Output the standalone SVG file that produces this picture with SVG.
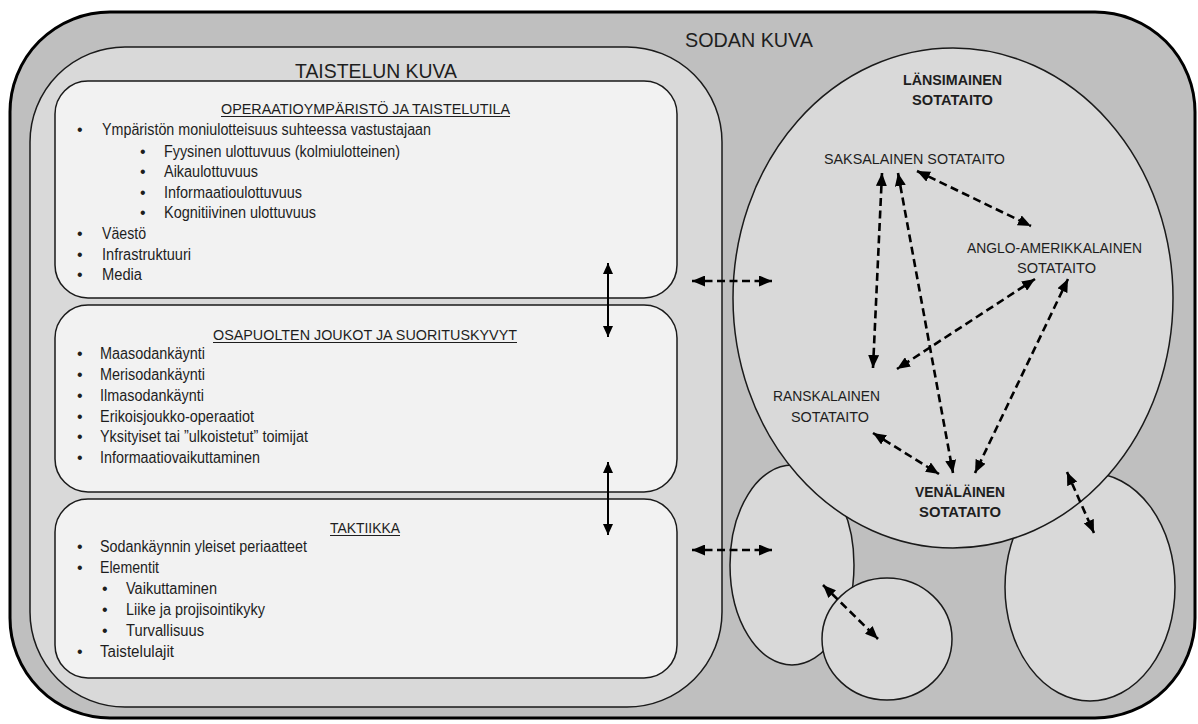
<svg xmlns="http://www.w3.org/2000/svg" width="1198" height="724" viewBox="0 0 1198 724">
<defs>
<style>
.t{font-family:"Liberation Sans Narrow","Liberation Sans",Arial,sans-serif;fill:#1e1e1e;}
.li{font-size:16px;}
.hd{font-size:15.5px;}
.ti{font-size:21px;}
.ci{font-size:15.5px;}
.b{font-weight:bold;}
.box{fill:#f2f2f2;stroke:#1a1a1a;stroke-width:1.5;}
.ell{fill:#d9d9d9;stroke:#1a1a1a;stroke-width:1.5;}
.ul{stroke:#1e1e1e;stroke-width:1.1;}
.da{fill:none;stroke:#000;stroke-width:2.6;stroke-dasharray:8 4.5;marker-start:url(#dh);marker-end:url(#dh);}
.sa{fill:none;stroke:#000;stroke-width:2;marker-start:url(#sh);marker-end:url(#sh);}
</style>
<marker id="dh" markerUnits="userSpaceOnUse" markerWidth="13" markerHeight="11" refX="13" refY="5.5" orient="auto-start-reverse" viewBox="0 0 13 11"><path d="M0,0 L13,5.5 L0,11 z" fill="#000"/></marker>
<marker id="sh" markerUnits="userSpaceOnUse" markerWidth="11" markerHeight="10" refX="11" refY="5" orient="auto-start-reverse" viewBox="0 0 11 10"><path d="M0,0 L11,5 L0,10 z" fill="#000"/></marker>
</defs>

<g id="sodan-kuva">
<rect x="10" y="12" width="1185" height="706" rx="100" ry="100" fill="#bfbfbf" stroke="#000" stroke-width="3"/>
<text class="t ti" x="685" y="47" textLength="128" lengthAdjust="spacingAndGlyphs">SODAN KUVA</text>
</g>

<g id="taistelun-kuva">
<rect x="30" y="47" width="692" height="660" rx="95" ry="95" fill="#d9d9d9" stroke="#1a1a1a" stroke-width="1.5"/>
<text class="t ti" x="295" y="78" textLength="162" lengthAdjust="spacingAndGlyphs">TAISTELUN KUVA</text>
</g>

<g id="operaatioymparisto">
<rect class="box" x="55" y="81" width="622" height="217" rx="33" ry="33"/>
<text class="t hd" x="221" y="114" textLength="289" lengthAdjust="spacingAndGlyphs">OPERAATIOYMPÄRISTÖ JA TAISTELUTILA</text>
<line class="ul" x1="221" y1="116.5" x2="510" y2="116.5"/>
<g class="t li">
<text x="77" y="135">•</text><text x="102" y="135" textLength="329" lengthAdjust="spacingAndGlyphs">Ympäristön moniulotteisuus suhteessa vastustajaan</text>
<text x="140" y="157">•</text><text x="164" y="157" textLength="236" lengthAdjust="spacingAndGlyphs">Fyysinen ulottuvuus (kolmiulotteinen)</text>
<text x="140" y="177">•</text><text x="164" y="177" textLength="94" lengthAdjust="spacingAndGlyphs">Aikaulottuvuus</text>
<text x="140" y="198">•</text><text x="164" y="198" textLength="138" lengthAdjust="spacingAndGlyphs">Informaatioulottuvuus</text>
<text x="140" y="218">•</text><text x="164" y="218" textLength="152" lengthAdjust="spacingAndGlyphs">Kognitiivinen ulottuvuus</text>
<text x="77" y="239">•</text><text x="102" y="239" textLength="44" lengthAdjust="spacingAndGlyphs">Väestö</text>
<text x="77" y="260">•</text><text x="102" y="260" textLength="89" lengthAdjust="spacingAndGlyphs">Infrastruktuuri</text>
<text x="77" y="280">•</text><text x="102" y="280" textLength="40" lengthAdjust="spacingAndGlyphs">Media</text>
</g>
</g>

<g id="osapuolten-joukot">
<rect class="box" x="55" y="305" width="622" height="187" rx="33" ry="33"/>
<text class="t hd" x="213" y="340" textLength="304" lengthAdjust="spacingAndGlyphs">OSAPUOLTEN JOUKOT JA SUORITUSKYVYT</text>
<line class="ul" x1="213" y1="342.5" x2="517" y2="342.5"/>
<g class="t li">
<text x="77" y="359">•</text><text x="100" y="359" textLength="105" lengthAdjust="spacingAndGlyphs">Maasodankäynti</text>
<text x="77" y="380">•</text><text x="100" y="380" textLength="105" lengthAdjust="spacingAndGlyphs">Merisodankäynti</text>
<text x="77" y="401">•</text><text x="100" y="401" textLength="104" lengthAdjust="spacingAndGlyphs">Ilmasodankäynti</text>
<text x="77" y="422">•</text><text x="100" y="422" textLength="154" lengthAdjust="spacingAndGlyphs">Erikoisjoukko-operaatiot</text>
<text x="77" y="442">•</text><text x="100" y="442" textLength="208" lengthAdjust="spacingAndGlyphs">Yksityiset tai ”ulkoistetut” toimijat</text>
<text x="77" y="463">•</text><text x="100" y="463" textLength="160" lengthAdjust="spacingAndGlyphs">Informaatiovaikuttaminen</text>
</g>
</g>

<g id="taktiikka">
<rect class="box" x="55" y="499" width="622" height="179" rx="33" ry="33"/>
<text class="t hd" x="330" y="533" textLength="70" lengthAdjust="spacingAndGlyphs">TAKTIIKKA</text>
<line class="ul" x1="330" y1="535.5" x2="400" y2="535.5"/>
<g class="t li">
<text x="77" y="552">•</text><text x="100" y="552" textLength="207" lengthAdjust="spacingAndGlyphs">Sodankäynnin yleiset periaatteet</text>
<text x="77" y="573">•</text><text x="100" y="573" textLength="59" lengthAdjust="spacingAndGlyphs">Elementit</text>
<text x="102" y="594">•</text><text x="126" y="594" textLength="91" lengthAdjust="spacingAndGlyphs">Vaikuttaminen</text>
<text x="102" y="615">•</text><text x="126" y="615" textLength="139" lengthAdjust="spacingAndGlyphs">Liike ja projisointikyky</text>
<text x="102" y="636">•</text><text x="126" y="636" textLength="78" lengthAdjust="spacingAndGlyphs">Turvallisuus</text>
<text x="77" y="657">•</text><text x="100" y="657" textLength="74" lengthAdjust="spacingAndGlyphs">Taistelulajit</text>
</g>
</g>

<g id="ellipse-left"><ellipse class="ell" cx="792" cy="565" rx="62" ry="100"/></g>
<g id="ellipse-right"><ellipse class="ell" cx="1090" cy="587" rx="85" ry="114"/></g>
<g id="ellipse-small"><ellipse class="ell" cx="887" cy="639" rx="65" ry="61"/></g>

<g id="lansimainen-sotataito">
<ellipse class="ell" cx="953" cy="298" rx="220" ry="250"/>
<text class="t ci b" x="903" y="85" textLength="99" lengthAdjust="spacingAndGlyphs">LÄNSIMAINEN</text>
<text class="t ci b" x="912" y="105" textLength="81" lengthAdjust="spacingAndGlyphs">SOTATAITO</text>
</g>
<g id="saksalainen">
<text class="t ci" x="824" y="164" textLength="181" lengthAdjust="spacingAndGlyphs">SAKSALAINEN SOTATAITO</text>
</g>
<g id="anglo-amerikkalainen">
<text class="t ci" x="967" y="253" textLength="175" lengthAdjust="spacingAndGlyphs">ANGLO-AMERIKKALAINEN</text>
<text class="t ci" x="1017" y="273" textLength="79" lengthAdjust="spacingAndGlyphs">SOTATAITO</text>
</g>
<g id="ranskalainen">
<text class="t ci" x="773" y="401" textLength="107" lengthAdjust="spacingAndGlyphs">RANSKALAINEN</text>
<text class="t ci" x="791" y="422" textLength="78" lengthAdjust="spacingAndGlyphs">SOTATAITO</text>
</g>
<g id="venalainen">
<text class="t ci b" x="915" y="497" textLength="90" lengthAdjust="spacingAndGlyphs">VENÄLÄINEN</text>
<text class="t ci b" x="919" y="517" textLength="82" lengthAdjust="spacingAndGlyphs">SOTATAITO</text>
</g>

<g id="connectors">
<line class="sa" x1="608" y1="263" x2="608" y2="337"/>
<line class="sa" x1="608" y1="462" x2="608" y2="535"/>
<line class="da" x1="692" y1="281" x2="772" y2="281"/>
<line class="da" x1="692" y1="550" x2="772" y2="550"/>
<line class="da" x1="882" y1="173" x2="873" y2="368"/>
<line class="da" x1="898" y1="173" x2="953" y2="473"/>
<line class="da" x1="917" y1="171" x2="1031" y2="226"/>
<line class="da" x1="1035" y1="279" x2="897" y2="369"/>
<line class="da" x1="1068" y1="279" x2="975" y2="473"/>
<line class="da" x1="873" y1="433" x2="939" y2="474"/>
<line class="da" x1="1067" y1="472" x2="1094" y2="533"/>
<line class="da" x1="823" y1="585" x2="878" y2="639"/>
</g>
</svg>
